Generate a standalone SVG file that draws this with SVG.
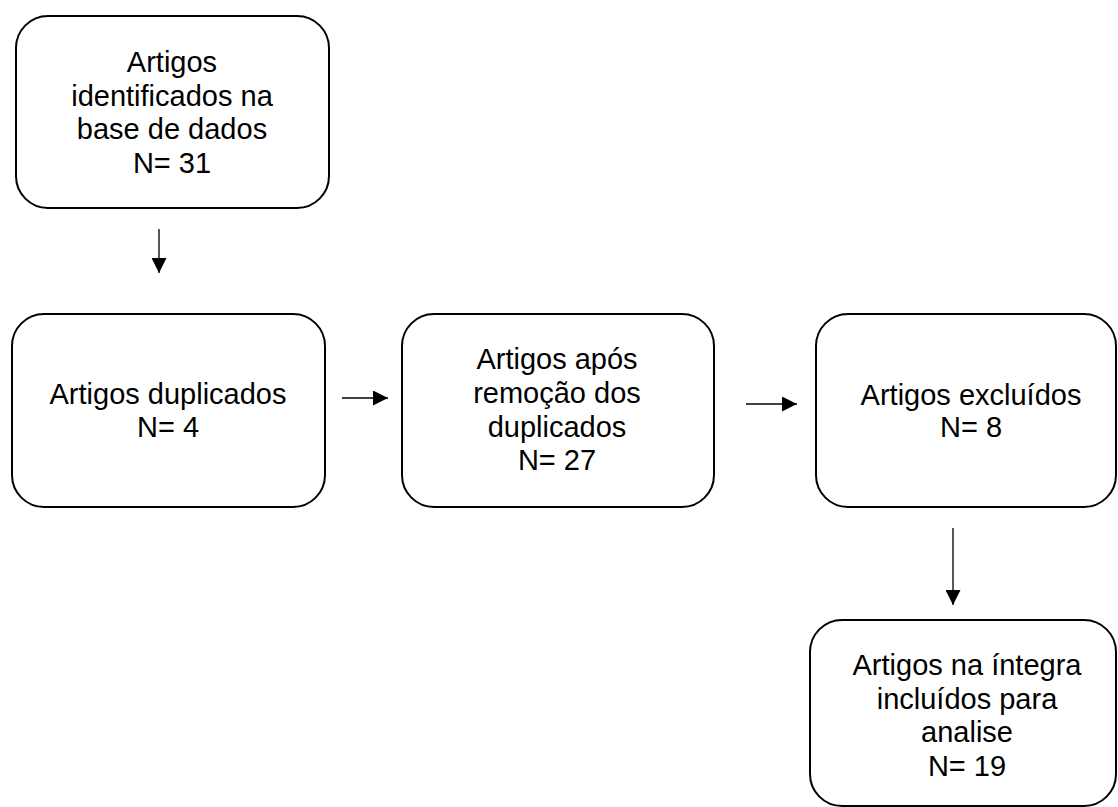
<svg xmlns="http://www.w3.org/2000/svg" width="1118" height="807" viewBox="0 0 1118 807">
<style>
.box{fill:#fff;stroke:#000;stroke-width:2}
.t{font-family:"Liberation Sans",Arial,sans-serif;font-size:29px;fill:#000;text-anchor:middle}
.c{stroke:#000;stroke-width:1.3;fill:none;marker-end:url(#ah)}
</style>
<defs>
<marker id="ah" viewBox="0 0 10 10" refX="10" refY="5" markerWidth="15" markerHeight="15" markerUnits="userSpaceOnUse" orient="auto">
<path d="M0,0 L10,5 L0,10 Z" fill="#000"/>
</marker>
</defs>
<rect width="1118" height="807" fill="#fff"/>
<g id="connectors">
<line class="c" x1="159" y1="229" x2="159" y2="273"/>
<line class="c" x1="342" y1="398" x2="388" y2="398"/>
<line class="c" x1="746" y1="404" x2="797" y2="404"/>
<line class="c" x1="953" y1="528" x2="953" y2="605"/>
</g>
<g id="n1">
<rect class="box" x="16" y="16" width="313" height="192" rx="32"/>
<text class="t" x="172" y="72">Artigos</text>
<text class="t" x="172" y="105.5">identificados na</text>
<text class="t" x="172" y="139">base de dados</text>
<text class="t" x="172" y="172.5">N= 31</text>
</g>
<g id="n2">
<rect class="box" x="12" y="314" width="313" height="193" rx="32"/>
<text class="t" x="168" y="404">Artigos duplicados</text>
<text class="t" x="168" y="437">N= 4</text>
</g>
<g id="n3">
<rect class="box" x="402" y="314" width="312" height="193" rx="32"/>
<text class="t" x="557" y="369">Artigos após</text>
<text class="t" x="557" y="403">remoção dos</text>
<text class="t" x="557" y="437">duplicados</text>
<text class="t" x="557" y="470">N= 27</text>
</g>
<g id="n4">
<rect class="box" x="816" y="314" width="300" height="193" rx="32"/>
<text class="t" x="971" y="405">Artigos excluídos</text>
<text class="t" x="971" y="437">N= 8</text>
</g>
<g id="n5">
<rect class="box" x="810" y="620" width="306" height="186" rx="32"/>
<text class="t" x="967" y="675">Artigos na íntegra</text>
<text class="t" x="967" y="709">incluídos para</text>
<text class="t" x="967" y="742">analise</text>
<text class="t" x="967" y="776">N= 19</text>
</g>
</svg>
